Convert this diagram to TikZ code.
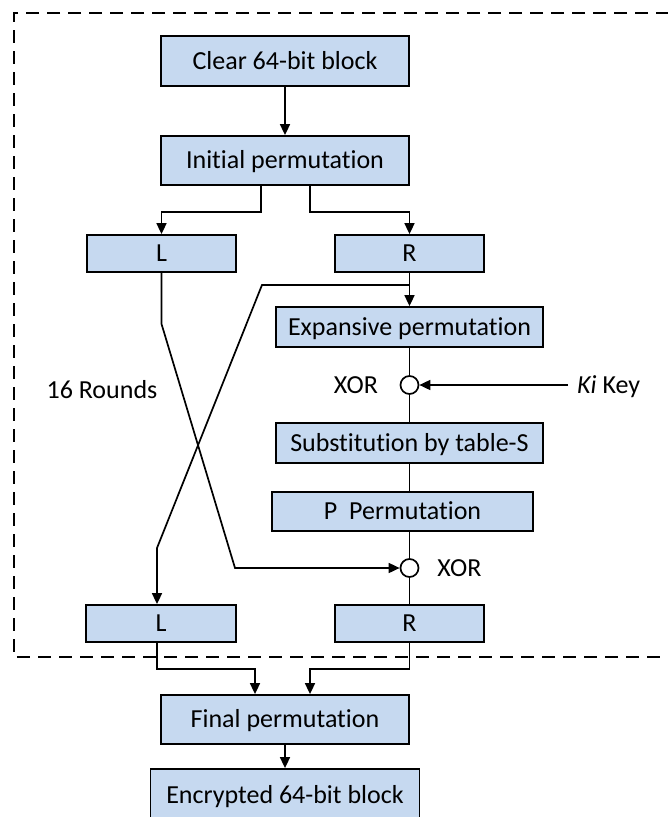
\documentclass[tikz,border=0pt]{standalone}
\usepackage{fontspec}
\setmainfont{Carlito}[Ligatures={NoCommon}]
\usetikzlibrary{arrows.meta}
\definecolor{boxblue}{RGB}{198,217,240}
\begin{document}
\begin{tikzpicture}[x=1pt,y=-1pt,
  blk/.style={draw, fill=boxblue, line width=1.8pt, inner sep=0pt, text height=16.7pt, text depth=0pt, font=\fontsize{26}{30}\selectfont},
  con/.style={line width=1.7pt},
  arr/.style={con, -{Triangle[length=11pt,width=10pt]}},
  xorc/.style={circle, draw, fill=white, line width=1.7pt, minimum size=18pt, inner sep=0pt},
  lbl/.style={font=\fontsize{26}{30}\selectfont, inner sep=0pt, text height=16.7pt, text depth=0pt},
  frame/.style={dash pattern=on 13pt off 8pt, line width=2pt}]
\useasboundingbox (0,0) rectangle (668,817);
% dashed round frame
\draw[frame] (690,13) -- (14,13) -- (14,657) -- (690,657);
% boxes
\node[blk, minimum width=248, minimum height=50] (clear) at (285,61) {Clear 64-bit block};
\node[blk, minimum width=248, minimum height=49] (init) at (285,160.5) {Initial permutation};
\node[blk, minimum width=149, minimum height=37] (Ltop) at (161.5,253.5) {L};
\node[blk, minimum width=149, minimum height=37] (Rtop) at (409.5,253.5) {R};
\node[blk, minimum width=267, minimum height=40] (exp) at (409.5,327) {Expansive permutation};
\node[xorc] (x1) at (409.5,385) {};
\node[blk, minimum width=267, minimum height=40] (sub) at (409.5,443) {Substitution by table-S};
\node[blk, minimum width=261, minimum height=39] (perm) at (402.5,511.5) {P\ \ Permutation};
\node[xorc] (x2) at (409.5,568) {};
\node[blk, minimum width=150, minimum height=37] (Lbot) at (161,623.5) {L};
\node[blk, minimum width=149, minimum height=37] (Rbot) at (409.5,623.5) {R};
\node[blk, minimum width=248, minimum height=49] (final) at (285,719.5) {Final permutation};
\node[blk, minimum width=269, minimum height=52] (enc) at (285,795) {Encrypted 64-bit block};
% labels
\node[lbl] (xl1) at (356,385) {XOR};
\node[lbl] (xl2) at (459.5,568) {XOR};
\node[lbl] (rounds) at (102,390) {16 Rounds};
\node[lbl, anchor=west] (keylbl) at (577,385) {\textit{Ki} Key};
\coordinate (key) at ([xshift=-9pt]keylbl.west);
\coordinate (br) at (409.5,285);
% connectors
\draw[arr] (clear.south) -- (init.north);
\draw[arr] ([xshift=-24pt]init.south) -- ++(0,26) -| (Ltop.north);
\draw[arr] ([xshift=25pt]init.south) -- ++(0,26) -| (Rtop.north);
\draw[arr] (Rtop.south) -- (exp.north);
\draw[con] (exp.south) -- (x1.north);
\draw[arr] (key) -- (x1.east);
\draw[con] (x1.south) -- (sub.north);
\draw[con] (sub.south) -- (sub.south |- perm.north);
\draw[con] (x2.north |- perm.south) -- (x2.north);
\draw[con] (x2.south) -- (Rbot.north);
\draw[arr] (Ltop.south) -- ++(0,51) -- (235,568) -- (x2.west);
\draw[arr] (br) -- (262,285) -- (157,548) -- ([xshift=-4pt]Lbot.north);
\draw[arr] ([xshift=-4pt]Lbot.south) -- ++(0,26) -| ([xshift=-30pt]final.north);
\draw[arr] (Rbot.south) -- ++(0,26) -| ([xshift=25pt]final.north);
\draw[arr] (final.south) -- (enc.north);
\end{tikzpicture}
\end{document}
